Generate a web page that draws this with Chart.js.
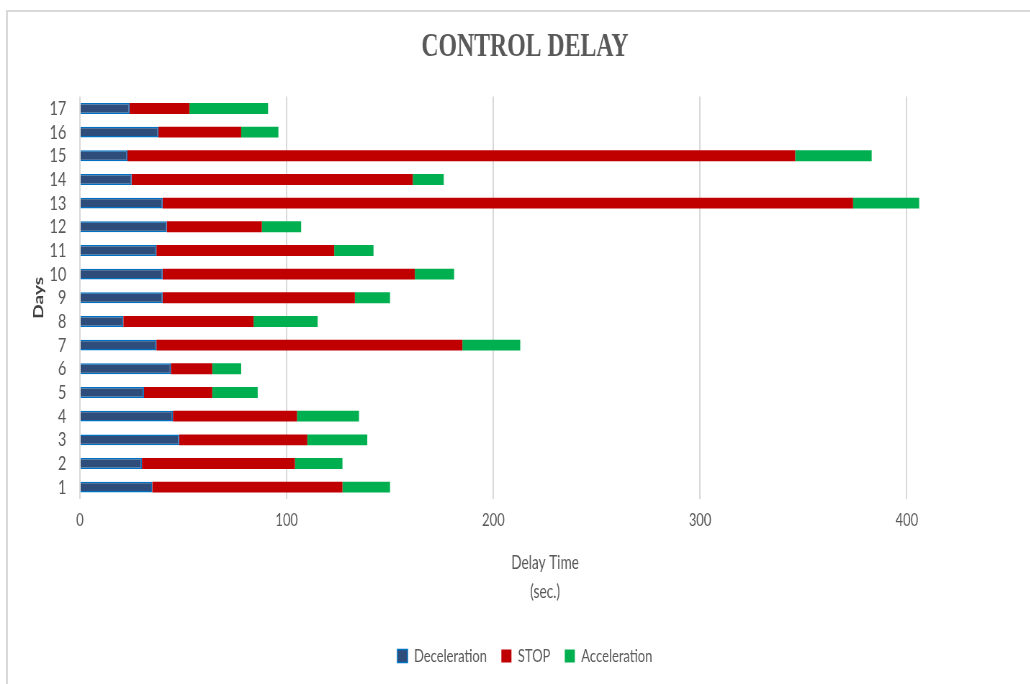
<!DOCTYPE html>
<html lang="en">
<head>
  <meta charset="UTF-8">
  <title>Control Delay</title>
  <script src="https://cdn.jsdelivr.net/npm/chart.js"></script>
  <style>
    html, body { margin: 0; padding: 0; background: #fff; overflow: hidden; width: 1030px; height: 684px; }
    #frame { position: absolute; left: 6px; top: 10px; width: 1030px; height: 680px;
             border-top: 2px solid #d9d9d9; border-left: 2px solid #d9d9d9; }
    /* the original picture is squeezed sideways, so the chart is drawn wide and condensed */
    #grafik { position: absolute; left: 0; top: 0; transform: scaleX(0.72); transform-origin: 0 0; }
  </style>
</head>
<body>
  <div id="frame"></div>
  <canvas id="grafik" width="1458" height="684"></canvas>

  <script>
    const days = ['1','2','3','4','5','6','7','8','9','10','11','12','13','14','15','16','17'];
    const deceleration = [35, 30, 48, 45, 31, 44, 37, 21, 40, 40, 37, 42, 40, 25, 23, 38, 24];
    const stop         = [92, 74, 62, 60, 33, 20, 148, 63, 93, 122, 86, 46, 334, 136, 323, 40, 29];
    const acceleration = [23, 23, 29, 30, 22, 14, 28, 31, 17, 19, 19, 19, 32, 15, 37, 18, 38];
    const xTicks = [0, 100, 200, 300, 400];

    const grey = '#595959';
    const sans = 'Lato, "Open Sans", sans-serif';

    new Chart(document.getElementById('grafik'), {
      type: 'bar',
      data: {
        labels: days,
        datasets: [
          { label: 'Deceleration', data: deceleration, backgroundColor: '#2E4D7B', borderColor: '#0070C0', borderWidth: 1.5 },
          { label: 'STOP', data: stop, backgroundColor: '#C00000', borderColor: '#C00000', borderWidth: 0 },
          { label: 'Acceleration', data: acceleration, backgroundColor: '#00B050', borderColor: '#00B050', borderWidth: 0 }
        ]
      },
      options: {
        indexAxis: 'y',
        responsive: false,
        animation: false,
        devicePixelRatio: 1,
        datasets: { bar: { categoryPercentage: 1, barPercentage: 0.46 } },
        layout: { padding: { top: 0, right: 0, bottom: 9, left: 0 } },
        plugins: {
          title: {
            display: true,
            text: 'CONTROL DELAY',
            color: grey,
            font: { family: '"Liberation Serif", "DejaVu Serif", serif', size: 33, weight: 'bold' },
            padding: { top: 28, bottom: 29 }
          },
          legend: {
            position: 'bottom',
            labels: {
              color: grey,
              font: { family: sans, size: 18 },
              boxWidth: 14,
              boxHeight: 13,
              padding: 20
            }
          },
          tooltip: { enabled: false }
        },
        scales: {
          x: {
            stacked: true,
            min: 0,
            max: 450,
            afterBuildTicks: s => { s.ticks = xTicks.map(v => ({ value: v })); },
            afterFit: s => { s.height = 128; },
            grid: { color: '#D9D9D9', lineWidth: 2, drawTicks: false },
            border: { display: false },
            ticks: { color: grey, font: { family: sans, size: 18 }, padding: 10 },
            title: {
              display: true,
              text: ['Delay Time', '(sec.)'],
              color: grey,
              font: { family: sans, size: 19, lineHeight: 1.5 },
              padding: { top: 0, bottom: 21 }
            }
          },
          y: {
            stacked: true,
            reverse: true,
            afterFit: s => { s.width = 111; },
            grid: { display: false },
            border: { display: false },
            ticks: { color: grey, font: { family: sans, size: 20 }, padding: 11, autoSkip: false },
            title: {
              display: true,
              text: 'Days',
              color: '#404040',
              font: { family: sans, size: 19, weight: 'bold' },
              padding: { top: 42, bottom: 0 }
            }
          },
          // empty space on the right, so title and legend stay centred like the original
          spacer: {
            type: 'linear',
            position: 'right',
            afterFit: s => { s.width = 55; },
            grid: { display: false },
            border: { display: false },
            ticks: { display: false }
          }
        }
      }
    });
  </script>
</body>
</html>
